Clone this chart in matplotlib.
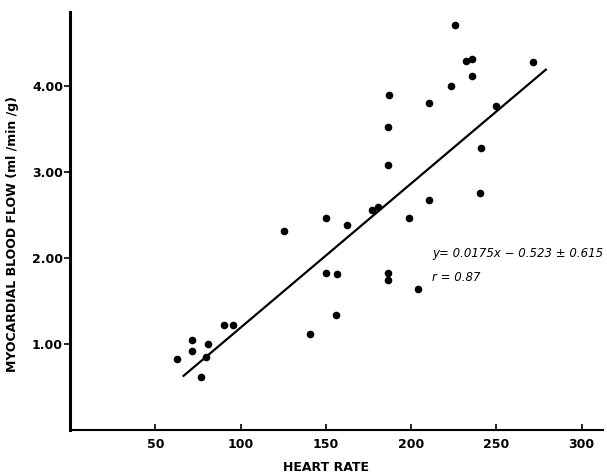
import matplotlib.pyplot as plt

# heart rate (beats/min) and myocardial blood flow (ml/min/g)
heart_rate = [62.7, 71.7, 71.7, 76.8, 79.9, 81.1, 90.3, 95.8, 125.3, 140.8,
              150.2, 150.3, 156.6, 156.2, 162.4, 177.3, 180.5, 186.4, 186.4,
              186.6, 186.7, 187.1, 198.7, 203.8, 210.5, 210.6, 223.1, 225.5,
              231.9, 235.6, 235.8, 240.5, 240.7, 249.5, 271.2]
blood_flow = [0.82, 1.05, 0.92, 0.62, 0.85, 1.00, 1.22, 1.22, 2.31, 1.12,
              1.83, 2.47, 1.81, 1.34, 2.38, 2.56, 2.59, 1.83, 1.74,
              3.08, 3.52, 3.89, 2.46, 1.64, 3.80, 2.67, 4.00, 4.71,
              4.29, 4.31, 4.12, 2.76, 3.28, 3.77, 4.28]

# regression line as drawn
line_x = [66.6, 279.0]
line_y = [0.63, 4.19]

x_ticks = [50, 100, 150, 200, 250, 300]
y_ticks = [1.0, 2.0, 3.0, 4.0]

fig = plt.figure(figsize=(6.07, 4.76), dpi=100)
ax = fig.add_axes([70 / 607, 1 - 430 / 476, 533 / 607, 418 / 476])

ax.scatter(heart_rate, blood_flow, s=20, color='black', zorder=3)
ax.plot(line_x, line_y, color='black', lw=1.6)

ax.set_xlim(0, 312.5)
ax.set_ylim(0, 4.86)

ax.spines['top'].set_visible(False)
ax.spines['right'].set_visible(False)
ax.spines['left'].set_linewidth(2.2)
ax.spines['bottom'].set_linewidth(1.5)

ax.set_xticks(x_ticks)
ax.set_xticklabels([str(t) for t in x_ticks], fontweight='bold', fontsize=9)
ax.set_yticks(y_ticks)
ax.set_yticklabels(['%.2f' % t for t in y_ticks], fontweight='bold', fontsize=9)
ax.tick_params(axis='x', direction='in', length=4, width=1.2, pad=6)
ax.tick_params(axis='y', direction='out', length=4, width=1.2, pad=1)

ax.set_xlabel('HEART RATE', fontweight='bold', fontsize=9)
ax.xaxis.set_label_coords(0.48, -0.075)
ax.set_ylabel('MYOCARDIAL BLOOD FLOW (ml /min /g)', fontweight='bold', fontsize=9)
ax.yaxis.set_label_coords(-0.095, 0.47)

ax.text(212.5, 2.05, 'y= 0.0175x − 0.523 ± 0.615', style='italic',
        fontsize=8.5, va='center', ha='left')
ax.text(212.5, 1.77, 'r = 0.87', style='italic', fontsize=8.5,
        va='center', ha='left')

fig.savefig('out.png', dpi=100)
